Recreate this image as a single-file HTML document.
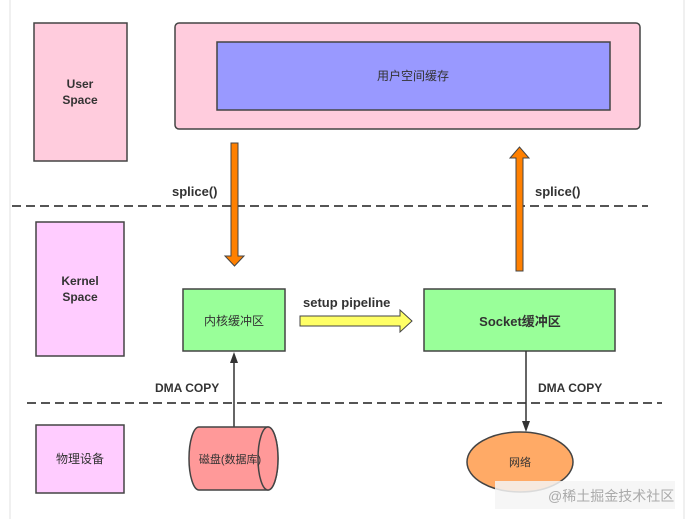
<!DOCTYPE html>
<html><head><meta charset="utf-8"><style>body{margin:0;background:#fff}svg{display:block}text{font-family:"Liberation Sans","Noto Sans CJK SC",sans-serif;fill:#333}</style></head><body>
<svg width="695" height="519" viewBox="0 0 695 519" xmlns="http://www.w3.org/2000/svg">
<rect x="0" y="0" width="695" height="519" fill="#fff"/>
<line x1="10" y1="0" x2="10" y2="519" stroke="#f0f0f0" stroke-width="2"/>
<line x1="684" y1="0" x2="684" y2="519" stroke="#f0f0f0" stroke-width="2"/>
<rect x="34" y="23" width="93" height="138" fill="#ffccdd" stroke="#444" stroke-width="1.5"/>
<text x="80" y="88" font-size="12" font-weight="bold" text-anchor="middle">User</text>
<text x="80" y="104" font-size="12" font-weight="bold" text-anchor="middle">Space</text>
<rect x="175" y="23" width="465" height="106" rx="4" fill="#ffccdd" stroke="#444" stroke-width="1.5"/>
<rect x="217" y="42" width="393" height="68" fill="#9999ff" stroke="#444" stroke-width="1.5"/>
<text x="413" y="80" font-size="12" text-anchor="middle">用户空间缓存</text>
<line x1="12" y1="206" x2="648" y2="206" stroke="#555" stroke-width="2" stroke-dasharray="9,5"/>
<line x1="27" y1="403" x2="662" y2="403" stroke="#555" stroke-width="2" stroke-dasharray="9,5"/>
<polygon points="231,143 238,143 238,256 244,256 234.5,266 225,256 231,256" fill="#ff8000" stroke="#444" stroke-width="1"/>
<polygon points="516,271 523,271 523,158 529,158 519.5,147 510,158 516,158" fill="#ff8000" stroke="#444" stroke-width="1"/>
<text x="172" y="196" font-size="13" font-weight="bold">splice()</text>
<text x="535" y="196" font-size="13" font-weight="bold">splice()</text>
<rect x="36" y="222" width="88" height="134" fill="#ffccff" stroke="#444" stroke-width="1.5"/>
<text x="80" y="285" font-size="12" font-weight="bold" text-anchor="middle">Kernel</text>
<text x="80" y="301" font-size="12" font-weight="bold" text-anchor="middle">Space</text>
<rect x="183" y="289" width="102" height="62" fill="#99ff99" stroke="#444" stroke-width="1.5"/>
<text x="234" y="325" font-size="12" text-anchor="middle">内核缓冲区</text>
<rect x="424" y="289" width="191" height="62" fill="#99ff99" stroke="#444" stroke-width="1.5"/>
<text x="520" y="326" font-size="13" font-weight="bold" text-anchor="middle">Socket缓冲区</text>
<polygon points="300,316 400,316 400,310 412,321 400,332 400,326 300,326" fill="#ffff66" stroke="#444" stroke-width="1"/>
<text x="303" y="307" font-size="13" font-weight="bold">setup pipeline</text>
<line x1="234" y1="427" x2="234" y2="362" stroke="#333" stroke-width="1.5"/>
<polygon points="234,352 230,363 238,363" fill="#333"/>
<text x="155" y="392" font-size="12" font-weight="bold">DMA COPY</text>
<line x1="526" y1="351" x2="526" y2="421" stroke="#333" stroke-width="1.5"/>
<polygon points="526,432 522,421 530,421" fill="#333"/>
<text x="538" y="392" font-size="12" font-weight="bold">DMA COPY</text>
<rect x="36" y="425" width="88" height="68" fill="#ffccff" stroke="#444" stroke-width="1.5"/>
<text x="80" y="463" font-size="12" text-anchor="middle">物理设备</text>
<path d="M199,427 L268,427 A10,31.5 0 0 1 268,490 L199,490 A10,31.5 0 0 1 199,427 Z" fill="#ff9999" stroke="#444" stroke-width="1.5"/>
<ellipse cx="268" cy="458.5" rx="10" ry="31.5" fill="#ff9999" stroke="#444" stroke-width="1.5"/>
<text x="230" y="463" font-size="11" text-anchor="middle">磁盘(数据库)</text>
<ellipse cx="520" cy="462" rx="53" ry="30" fill="#ffaa66" stroke="#444" stroke-width="1.5"/>
<text x="520" y="466" font-size="11" text-anchor="middle">网络</text>
<rect x="495" y="481" width="180" height="28" fill="#f4f4f4" opacity="0.85"/>
<text x="548" y="501" font-size="14" style="fill:#aaa">@稀土掘金技术社区</text>
</svg>
</body></html>
